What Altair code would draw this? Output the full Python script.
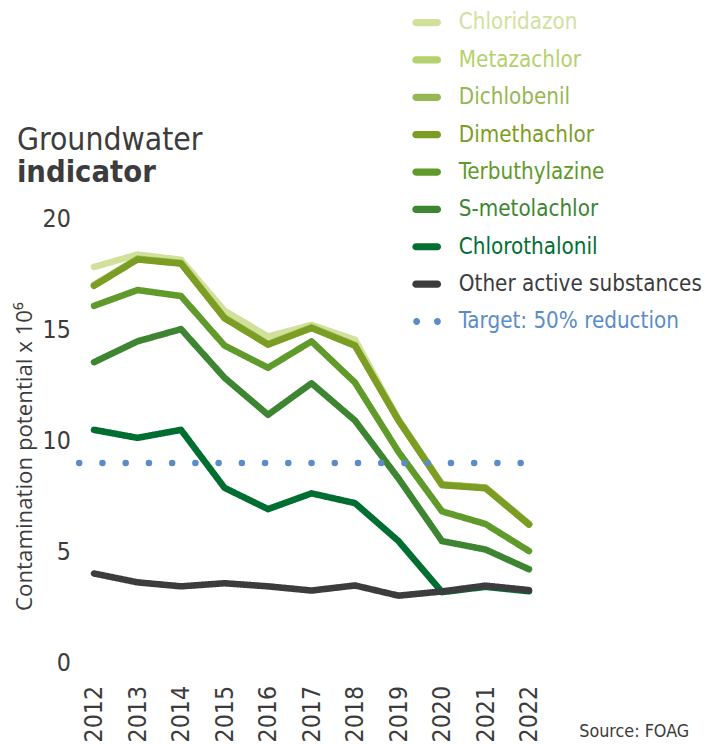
import altair as alt
import pandas as pd

years = list(range(2012, 2023))

series_names = [
    "Chloridazon", "Metazachlor", "Dichlobenil", "Dimethachlor",
    "Terbuthylazine", "S-metolachlor", "Chlorothalonil",
    "Other active substances", "Target: 50% reduction",
]
series_colors = [
    "#d1e19c", "#b3d16c", "#96b752", "#7b9d23",
    "#5f9a2b", "#3d8531", "#006d31", "#3c3c3e", "#5b8cc7",
]

chloridazon    = [17.83, 18.39, 18.15, 15.86, 14.70, 15.22, 14.55, 10.96, 8.04, 7.90, 6.26]
metazachlor    = [17.02, 18.21, 18.02, 15.56, 14.37, 15.12, 14.32, 10.95, 8.03, 7.89, 6.25]
dichlobenil    = [17.00, 18.19, 18.00, 15.54, 14.35, 15.10, 14.30, 10.93, 8.02, 7.88, 6.24]
dimethachlor   = [16.98, 18.17, 17.98, 15.52, 14.33, 15.08, 14.28, 10.91, 8.00, 7.86, 6.22]
terbuthylazine = [16.08, 16.79, 16.52, 14.29, 13.29, 14.48, 12.62, 9.50, 6.82, 6.25, 5.03]
s_metolachlor  = [13.54, 14.48, 15.03, 12.84, 11.17, 12.59, 10.91, 8.30, 5.48, 5.10, 4.21]
chlorothalonil = [10.49, 10.13, 10.49, 7.88, 6.92, 7.63, 7.19, 5.48, 3.18, 3.42, 3.22]
other          = [4.02, 3.62, 3.44, 3.58, 3.44, 3.25, 3.48, 3.02, 3.21, 3.47, 3.27]

target_value = 9.0
target_years = [2011.66, 2022.34]

y_ticks = [0, 5, 10, 15, 20]

series_values = [chloridazon, metazachlor, dichlobenil, dimethachlor,
                 terbuthylazine, s_metolachlor, chlorothalonil, other]

rows = []
for name, vals in zip(series_names[:-1], series_values):
    for yr, v in zip(years, vals):
        rows.append({"series": name, "year": yr, "value": v})
for yr in target_years:
    rows.append({"series": series_names[-1], "year": yr, "value": target_value})
df = pd.DataFrame(rows)

legend_df = pd.DataFrame({"series": series_names})

dash_range = [[1, 0]] * 8 + [[0, 23.5]]

# legend swatch shapes (unit square paths): rounded stroke, and two dots
CAPSULE = "M-0.75,-0.25L0.75,-0.25A0.25,0.25,0,0,1,0.75,0.25L-0.75,0.25A0.25,0.25,0,0,1,-0.75,-0.25Z"
TWO_DOTS = ("M-0.94,0A0.24,0.24,0,1,0,-0.46,0A0.24,0.24,0,1,0,-0.94,0Z"
            "M0.51,0A0.24,0.24,0,1,0,0.99,0A0.24,0.24,0,1,0,0.51,0Z")
shape_range = [CAPSULE] * 8 + [TWO_DOTS]

COND = "DejaVu Sans Condensed, Liberation Sans Narrow, Roboto, sans-serif"
TXT = "#3c3c3c"

legend = alt.Legend(
    title=None, orient="none", legendX=344, legendY=-213,
    symbolSize=841, symbolStrokeWidth=0, symbolOpacity=1,
    labelFont=COND, labelFontSize=22.5, labelOffset=18, rowPadding=11.8,
    labelColor=alt.ExprRef("scale('color', datum.value)"),
    labelLimit=400,
)

color_scale = alt.Scale(domain=series_names, range=series_colors)

lines = alt.Chart(df).mark_line(strokeWidth=6.6, strokeCap="round", strokeJoin="round").encode(
    x=alt.X("year:Q", scale=alt.Scale(domain=[2011.5, 2022.5], nice=False, zero=False),
            axis=alt.Axis(values=years, format="d", labelAngle=270, labelPadding=23,
                          labelFont=COND, labelFontSize=25, labelColor=TXT,
                          domain=False, ticks=False, grid=False, title=None)),
    y=alt.Y("value:Q", scale=alt.Scale(domain=[0, 20], nice=False),
            axis=alt.Axis(values=y_ticks, labelFont=COND, labelFontSize=25, labelColor=TXT,
                          labelPadding=2, domain=False, ticks=False, grid=False,
                          title="Contamination potential x 10⁶", titleFont="Open Sans",
                          titleFontSize=22.5, titleFontWeight="normal", titleColor=TXT,
                          titleAngle=270, titleX=-48, titleY=240, titleAlign="center",
                          titleBaseline="middle")),
    color=alt.Color("series:N", scale=color_scale, legend=None),
    strokeDash=alt.StrokeDash("series:N", scale=alt.Scale(domain=series_names, range=dash_range),
                              legend=None),
    detail="series:N",
)

# legend-only layer: its points sit outside the canvas, only the legend shows
legend_layer = alt.Chart(legend_df).mark_point(filled=True, strokeWidth=0, opacity=1).encode(
    x=alt.value(-3000), y=alt.value(-3000),
    color=alt.Color("series:N", scale=color_scale, legend=legend),
    shape=alt.Shape("series:N", scale=alt.Scale(domain=series_names, range=shape_range),
                    legend=legend),
)

title1 = alt.Chart(pd.DataFrame({"t": ["Groundwater"]})).mark_text(
    align="left", baseline="alphabetic", font=COND, fontSize=32, color=TXT
).encode(text="t:N", x=alt.value(-56), y=alt.value(-70))

title2 = alt.Chart(pd.DataFrame({"t": ["indicator"]})).mark_text(
    align="left", baseline="alphabetic", font=COND, fontSize=31, fontWeight="bold", color=TXT
).encode(text="t:N", x=alt.value(-56), y=alt.value(-37))

source = alt.Chart(pd.DataFrame({"t": ["Source: FOAG"]})).mark_text(
    align="right", baseline="alphabetic", font=COND, fontSize=18, color=TXT
).encode(text="t:N", x=alt.value(624), y=alt.value(524))

chart = alt.layer(legend_layer, lines, title1, title2, source).properties(
    width=484, height=449,
    autosize=alt.AutoSizeParams(type="none"),
    padding={"left": 65, "top": 209, "right": 155, "bottom": 78},
    background="white",
).configure_view(stroke=None)

chart.save("out.html", embed_options={"renderer": "svg", "actions": False})
